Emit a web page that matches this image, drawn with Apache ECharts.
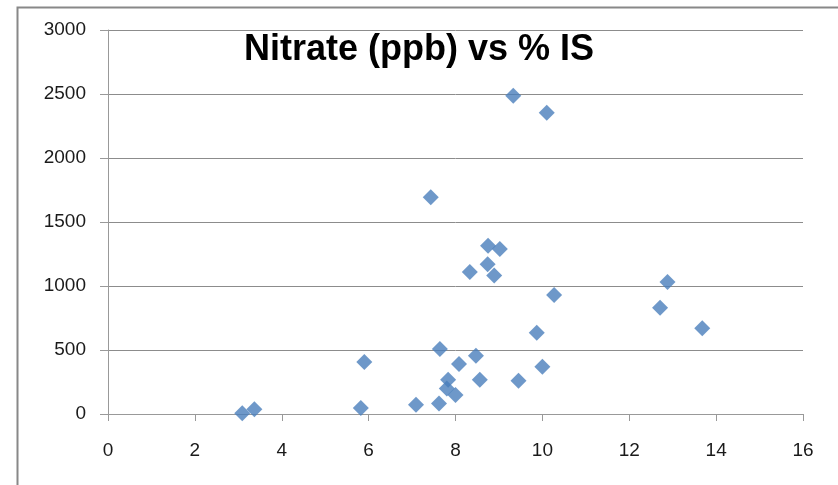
<!DOCTYPE html>
<html>
  <head>
    <meta charset="UTF-8" />
    <title></title>
    <style type="text/css">
      * {
        margin: 0;
        padding: 0;
      }
      #main {
        width: 838px;
        height: 485px;
        background-color: #fff;
      }
    </style>
  </head>
  <body>
    <div id="main"></div>
  </body>
  <script src="https://cdn.jsdelivr.net/npm/echarts@6/dist/echarts.min.js"></script>
  <script type="text/javascript">
    // % IS (x) and nitrate in ppb (y)
    var percentIS = [3.09, 3.37, 5.82, 5.9, 7.09, 7.62, 7.64, 7.8, 7.83, 8.0, 8.08, 8.47, 8.56,
      9.45, 10.0, 9.87, 10.27, 12.71, 12.88, 13.68, 8.33, 8.75, 9.02, 8.74, 8.89, 9.33, 10.1, 7.43]
    var nitrate = [5, 37, 47, 406, 73, 83, 508, 200, 268, 148, 390, 456, 268,
      260, 370, 635, 930, 831, 1031, 669, 1109, 1315, 1289, 1169, 1083, 2487, 2354, 1693]
    var xTicks = [0, 16, 2]
    var yTicks = [0, 3000, 500]

    var points = []
    percentIS.forEach((x, i) => {
      points.push([x, nitrate[i]])
    })

    var myCharts = echarts.init(document.getElementById('main'))
    var labelFont = {
      color: '#1a1a1a',
      fontSize: 19,
      fontFamily: 'Liberation Sans',
      formatter: (v) => String(v)
    }
    var option = {
      animation: false,
      title: {
        text: 'Nitrate (ppb) vs % IS',
        left: 'center',
        top: 27,
        textStyle: {
          fontFamily: 'Liberation Sans',
          fontWeight: 'bold',
          fontSize: 36,
          color: '#000'
        }
      },
      graphic: [
        {
          type: 'rect',
          left: 15,
          top: 5,
          shape: { width: 900, height: 600 },
          style: { fill: 'none', stroke: '#888', lineWidth: 2 }
        }
      ],
      grid: {
        left: 108,
        right: 35,
        top: 30,
        bottom: 71
      },
      xAxis: {
        type: 'value',
        min: xTicks[0],
        max: xTicks[1],
        interval: xTicks[2],
        axisLine: { lineStyle: { color: '#999', width: 1 } },
        axisTick: { show: true, length: 7, lineStyle: { color: '#999' } },
        axisLabel: Object.assign({ margin: 27 }, labelFont),
        splitLine: { show: false }
      },
      yAxis: {
        type: 'value',
        min: yTicks[0],
        max: yTicks[1],
        interval: yTicks[2],
        axisLine: { show: true, lineStyle: { color: '#999', width: 1 } },
        axisTick: { show: true, length: 8, lineStyle: { color: '#999' } },
        axisLabel: Object.assign({ margin: 22 }, labelFont),
        splitLine: { show: true, lineStyle: { color: '#8c8c8c', width: 1 } }
      },
      series: [
        {
          type: 'scatter',
          symbol: 'diamond',
          symbolSize: 16,
          itemStyle: { color: '#4a7ebb' },
          data: points
        }
      ]
    }
    myCharts.setOption(option)
  </script>
</html>
